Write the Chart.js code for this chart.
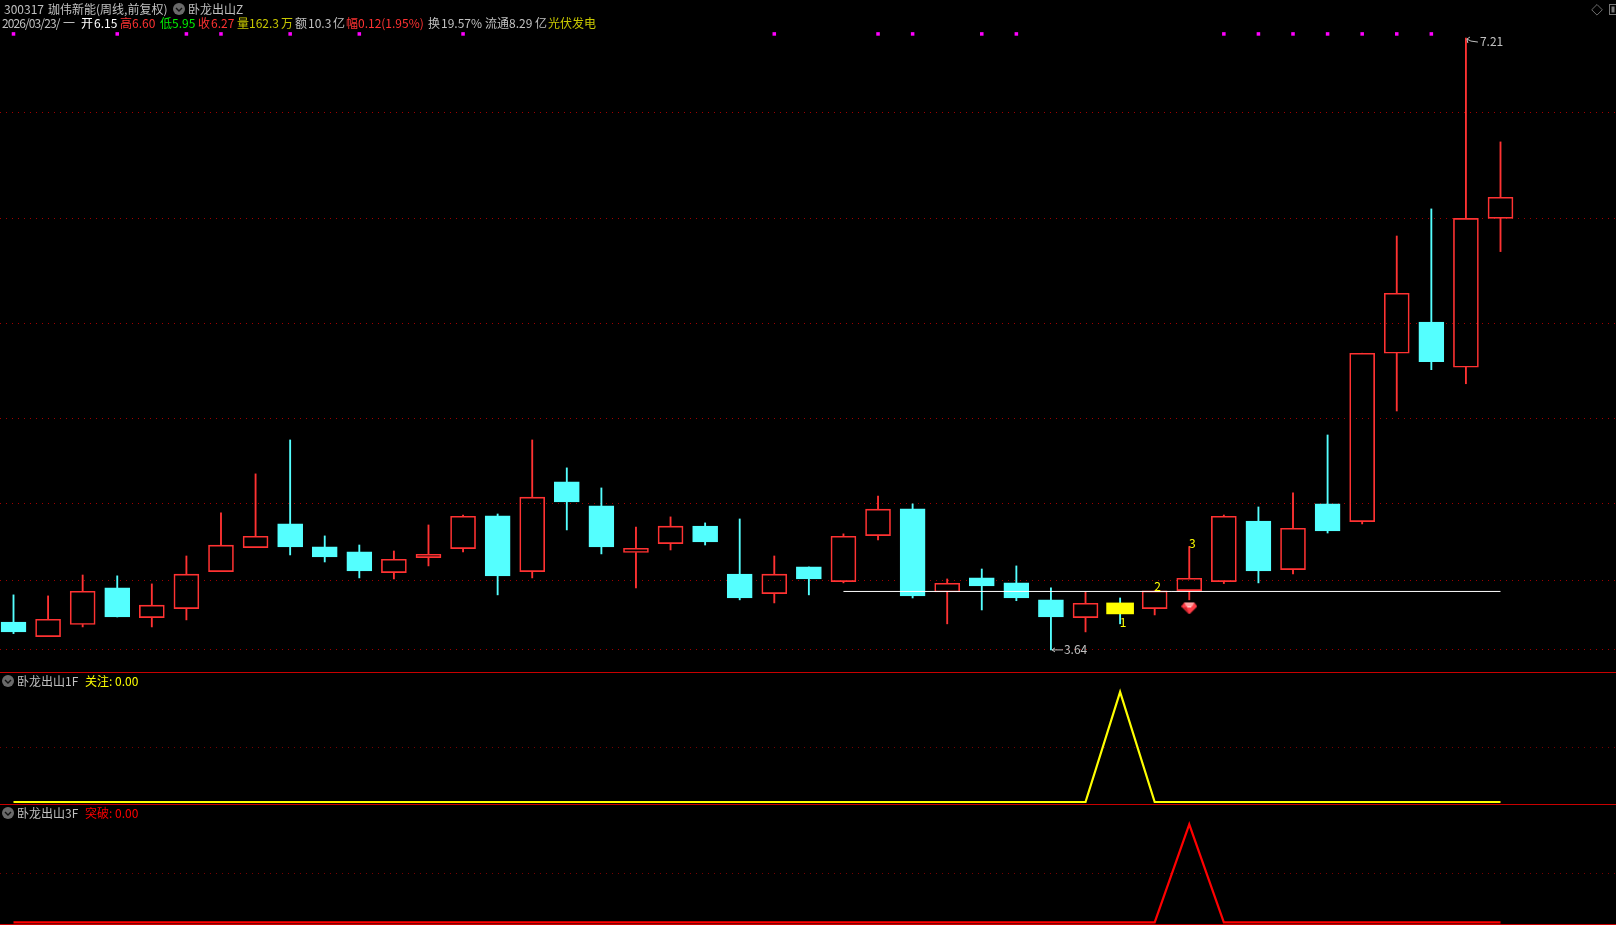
<!DOCTYPE html>
<html lang="zh-CN">
<head>
<meta charset="utf-8">
<title>300317 珈伟新能</title>
<script src="https://cdn.jsdelivr.net/npm/chart.js@4"></script>
<style>
html,body{margin:0;padding:0;background:#000;width:1616px;height:925px;overflow:hidden}
canvas{position:absolute;left:0;display:block}
.t{position:absolute;font:12px/14px "Noto Sans CJK SC",sans-serif;white-space:pre;color:#c0c0c0}
.sep{position:absolute;left:0;width:1616px;height:1px;background:#c80000}
svg{position:absolute}
</style>
</head>
<body>
<canvas id="main" width="1616" height="672" style="top:0;width:1616px;height:672px"></canvas>
<canvas id="sub1" width="1616" height="131" style="top:673px;width:1616px;height:131px"></canvas>
<canvas id="sub2" width="1616" height="119" style="top:805px;width:1616px;height:119px"></canvas>
<div class="sep" style="top:672px"></div>
<div class="sep" style="top:804px"></div>
<div class="sep" style="top:924px"></div>
<div id="texts"></div>
<script>
// ---------- data ----------
const opens  = [3.803,3.717,3.788,4.002,3.828,3.881,4.097,4.237,4.375,4.241,4.212,4.091,4.178,4.231,4.422,4.097,4.620,4.480,4.208,4.260,4.363,4.083,3.968,4.124,4.038,4.307,4.463,3.978,4.060,4.031,3.932,3.828,3.914,3.881,3.986,4.038,4.392,4.108,4.492,4.388,5.371,5.553,5.289,6.158];
const closes = [3.745,3.819,3.982,3.832,3.901,4.082,4.251,4.303,4.241,4.182,4.101,4.169,4.198,4.420,4.072,4.531,4.503,4.241,4.233,4.362,4.270,3.943,4.082,4.054,4.303,4.461,3.955,4.029,4.013,3.943,3.832,3.912,3.850,3.984,4.058,4.420,4.101,4.350,4.334,5.371,5.721,5.322,6.158,6.281];
const highs  = [3.961,3.955,4.077,4.072,4.025,4.188,4.439,4.667,4.865,4.305,4.252,4.217,4.369,4.427,4.433,4.865,4.702,4.585,4.357,4.416,4.381,4.404,4.188,4.124,4.317,4.538,4.492,4.054,4.112,4.130,4.002,3.978,3.943,3.984,4.243,4.427,4.474,4.556,4.894,5.371,6.055,6.213,7.210,6.604];
const lows   = [3.735,3.717,3.774,3.832,3.774,3.815,4.097,4.237,4.194,4.153,4.060,4.054,4.130,4.212,3.961,4.060,4.340,4.200,4.002,4.223,4.252,3.932,3.914,3.961,4.031,4.282,3.943,3.792,3.873,3.927,3.640,3.745,3.792,3.844,3.932,4.027,4.031,4.083,4.322,4.375,5.034,5.275,5.193,5.964];
const followSeries = [0,0,0,0,0,0,0,0,0,0,0,0,0,0,0,0,0,0,0,0,0,0,0,0,0,0,0,0,0,0,0,0,1,0,0,0,0,0,0,0,0,0,0,0];
const breakSeries  = [0,0,0,0,0,0,0,0,0,0,0,0,0,0,0,0,0,0,0,0,0,0,0,0,0,0,0,0,0,0,0,0,0,0,1,0,0,0,0,0,0,0,0,0];
const signalBars   = [0,3,5,6,8,10,13,22,25,26,28,29,35,36,37,38,39,40,41];
const signalLevel  = 7.234;
const supportLevel = 3.981;
const supportFrom  = 24;
const supportTo    = 43;
const highlightBar = 32;
const gemBar       = 34;
const gemValue     = 3.885;
const countBars    = [32,33,34];
const countLabels  = ["1","2","3"];
const mainGrid     = [6.775,6.158,5.546,4.990,4.496,4.047,3.643];
const subGrid      = [0.5];

// ---------- styles ----------
const RED="#ff3232", CYAN="#54ffff", YELLOW="#ffff00", GRID="#a00000", SUBGRID="#780000";
const X_MIN=-0.3904, X_MAX=46.34;
const idx = opens.map((_,i)=>i);
const isUp = i => closes[i] >= opens[i];
const xScale = {type:"linear",min:X_MIN,max:X_MAX,display:false,offset:false};
const yBase = (min,max,ticks,color)=>({
  min,max,position:"left",
  afterBuildTicks:s=>{s.ticks=ticks.map(v=>({value:v}))},
  afterFit:s=>{s.width=0},
  ticks:{display:false},
  grid:{color,lineWidth:1,drawTicks:false},
  border:{display:false,dash:[1,5]}
});
const common = {responsive:false,animation:false,devicePixelRatio:1,
  layout:{padding:0,autoPadding:false},
  plugins:{legend:{display:false},tooltip:{enabled:false}},
  events:[]};

function gemImage(){
  const c=document.createElement("canvas");c.width=16;c.height=13;
  const g=c.getContext("2d");
  g.fillStyle="#ff3c46";g.beginPath();g.moveTo(3,1);g.lineTo(13,1);g.lineTo(16,5);g.lineTo(8,13);g.lineTo(0,5);g.closePath();g.fill();
  g.fillStyle="#ffa0a0";g.beginPath();g.moveTo(3,1);g.lineTo(13,1);g.lineTo(11,5);g.lineTo(5,5);g.closePath();g.fill();
  g.fillStyle="#ffe0e0";g.fillRect(6,5,4,1);
  g.fillStyle="#c81e28";g.beginPath();g.moveTo(5,6);g.lineTo(8,12);g.lineTo(2,6);g.closePath();g.fill();
  return c;
}

// annotations placed from the data through the scales
const annotate = {id:"annotate",afterDatasetsDraw(ch){
  const {ctx,scales:{x,y}}=ch;
  ctx.save();ctx.font='12px "Noto Sans CJK SC",sans-serif';ctx.textBaseline="middle";
  const hi=Math.max(...highs), lo=Math.min(...lows);
  const hiI=highs.indexOf(hi), loI=lows.indexOf(lo);
  ctx.fillStyle="#c0c0c0";ctx.strokeStyle="#c0c0c0";ctx.lineWidth=1;
  const hx=x.getPixelForValue(hiI),hy=y.getPixelForValue(hi);
  ctx.beginPath();ctx.moveTo(hx+1,hy+1);ctx.lineTo(hx+5,hy+3);ctx.lineTo(hx+12,hy+4);
  ctx.moveTo(hx+1,hy+1);ctx.lineTo(hx+4,hy-1);ctx.moveTo(hx+1,hy+1);ctx.lineTo(hx+2,hy+5);ctx.stroke();
  ctx.fillText(hi.toFixed(2),hx+14,hy+3);
  const lx=x.getPixelForValue(loI),ly=y.getPixelForValue(lo);
  ctx.beginPath();ctx.moveTo(lx+1,ly);ctx.lineTo(lx+12,ly);ctx.moveTo(lx+1,ly);ctx.lineTo(lx+4,ly-2);ctx.moveTo(lx+1,ly);ctx.lineTo(lx+4,ly+2);ctx.stroke();
  ctx.fillText(lo.toFixed(2),lx+13,ly);
  ctx.fillStyle=YELLOW;ctx.textAlign="center";
  countBars.forEach((b,k)=>{
    const px=x.getPixelForValue(b)+3;
    const py=k===0?y.getPixelForValue(lows[b])-1:y.getPixelForValue(highs[b])-(k===1?4:3);
    ctx.fillText(countLabels[k],px,py);
  });
  ctx.restore();
}};

const bodyIdx = idx.filter(i=>i!==highlightBar);
new Chart(document.getElementById("main"),{
  type:"bar",
  plugins:[annotate],
  data:{datasets:[
    {label:"上影",order:5,grouped:false,barThickness:1.2,borderWidth:0,
     backgroundColor:idx.map(i=>isUp(i)?RED:CYAN),
     data:idx.map(i=>({x:i,y:[Math.max(opens[i],closes[i]),highs[i]]}))},
    {label:"下影",order:5,grouped:false,barThickness:1.2,borderWidth:0,
     backgroundColor:idx.map(i=>isUp(i)?RED:CYAN),
     data:idx.map(i=>({x:i,y:[lows[i],Math.min(opens[i],closes[i])]}))},
    {label:"K线",order:4,grouped:false,barThickness:25,borderWidth:1,borderSkipped:false,
     borderColor:bodyIdx.map(i=>isUp(i)?RED:CYAN),
     backgroundColor:bodyIdx.map(i=>isUp(i)?"rgba(0,0,0,0)":CYAN),
     data:bodyIdx.map(i=>({x:i,y:[opens[i],closes[i]]}))},
    {label:"起爆",order:3,grouped:false,barThickness:27,borderWidth:0,backgroundColor:YELLOW,
     data:[{x:highlightBar,y:[opens[highlightBar],closes[highlightBar]]}]},
    {type:"line",label:"支撑",order:2,borderColor:"#ffffff",borderWidth:1,pointRadius:0,tension:0,
     data:[{x:supportFrom,y:supportLevel},{x:supportTo,y:supportLevel}]},
    {type:"scatter",label:"信号",order:1,pointStyle:"rect",pointRadius:2.5,pointBackgroundColor:"#ff00ff",pointBorderWidth:0,
     data:signalBars.map(i=>({x:i,y:signalLevel}))},
    {type:"scatter",label:"钻石",order:1,pointStyle:gemImage(),pointRadius:8,
     data:[{x:gemBar,y:gemValue}]}
  ]},
  options:{...common,scales:{x:xScale,y:yBase(3.511,7.432,mainGrid,GRID)}}
});

function lineChart(id,series,color,min,max){
  new Chart(document.getElementById(id),{
    type:"line",
    data:{datasets:[{data:idx.map(i=>({x:i,y:series[i]})),borderColor:color,borderWidth:2.2,pointRadius:0,tension:0}]},
    options:{...common,scales:{x:xScale,y:yBase(min,max,subGrid,SUBGRID)}}
  });
}
lineChart("sub1",followSeries,YELLOW,-0.018,1.173);
lineChart("sub2",breakSeries,"#ff0000",-0.017,1.197);

// ---------- text ----------
const G="#c0c0c0",R=RED,W="#ffffff",GR="#00ee00",O="#c8c800",Y=YELLOW,PR="#ff0000";
const textItems=[
 ["300317",4,2,G],["珈伟新能",48,2,G],["(周线,前复权)",96,2,G],["卧龙出山Z",188,2,G],
 ["2026/03/23/",2,16,G,-0.9],["一",63,16,G],["开",81,16,W],["6.15",94,16,W],["高",120,16,R],["6.60",132,16,R],
 ["低",160,16,GR],["5.95",172,16,GR],["收",198,16,R],["6.27",211,16,R],["量",237,16,O],
 ["162.3",249,16,O],["万",281,16,O],["额",295,16,G],["10.3",308,16,G],["亿",333,16,G],
 ["幅",346,16,R],["0.12(1.95%)",358,16,R],["换",428,16,G],["19.57%",441,16,G],
 ["流通",485,16,G],["8.29",509,16,G],["亿",535,16,G],["光伏发电",548,16,O],
 ["卧龙出山1F",17,674,G],["关注: 0.00",85,674,Y],
 ["卧龙出山3F",17,806,G],["突破: 0.00",85,806,PR]
];
const tbox=document.getElementById("texts");
textItems.forEach(([s,l,t,c,ls])=>{const d=document.createElement("div");d.className="t";d.textContent=s;d.style.left=l+"px";d.style.top=t+"px";d.style.color=c;if(ls)d.style.letterSpacing=ls+"px";tbox.appendChild(d);});
const chev=(cx,cy)=>`<svg style="left:${cx-7}px;top:${cy-7}px" width="14" height="14"><circle cx="7" cy="7" r="6" fill="#6a6a6a"/><path d="M4 6l3 3 3-3" stroke="#111" stroke-width="1.4" fill="none"/></svg>`;
tbox.insertAdjacentHTML("beforeend",chev(179,9)+chev(8,681)+chev(8,813)+
 `<svg style="left:1590px;top:3px" width="14" height="14"><path d="M7 1.5l5.3 5.3-5.3 5.3-5.3-5.3z" stroke="#6e6e6e" fill="none"/></svg>`+
 `<svg style="left:1609px;top:3px" width="7" height="13"><rect x="0.5" y="1.5" width="9" height="10" stroke="#777" fill="none"/><rect x="2.5" y="3.5" width="3" height="6" fill="#777"/></svg>`);
</script>
</body>
</html>
